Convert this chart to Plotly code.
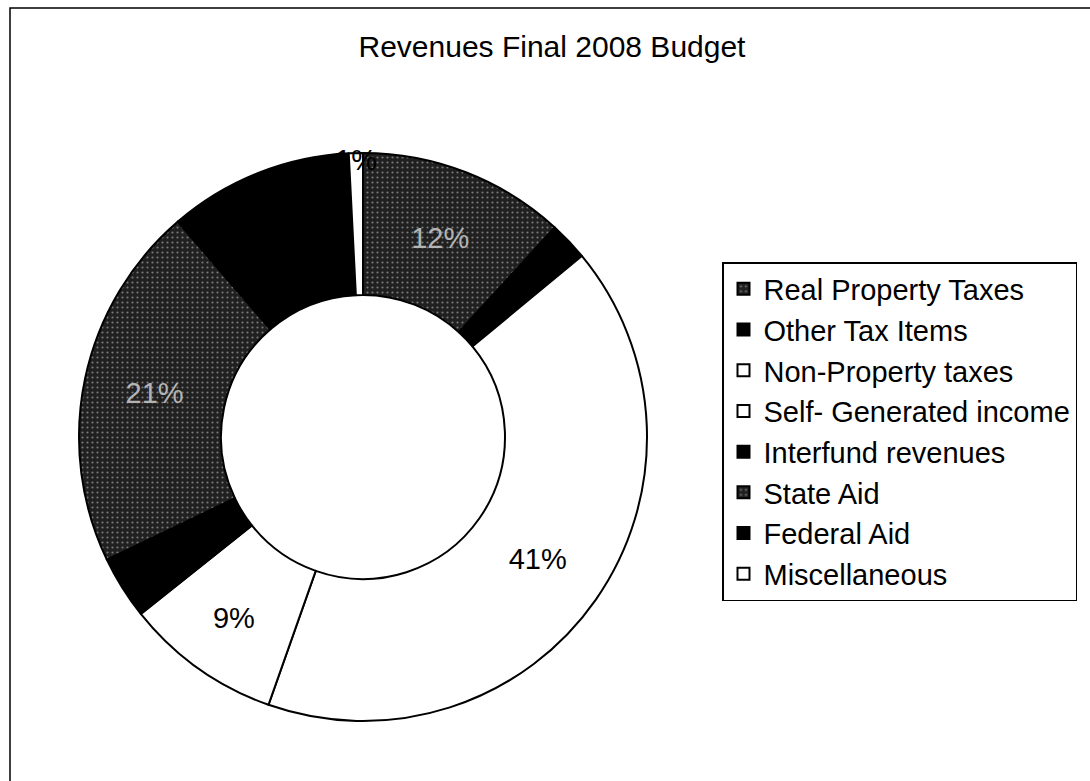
import plotly.graph_objects as go

# Revenue categories and their share of the final 2008 budget (percent)
categories = [
    "Real Property Taxes",
    "Other Tax Items",
    "Non-Property taxes",
    "Self- Generated income",
    "Interfund revenues",
    "State Aid",
    "Federal Aid",
    "Miscellaneous",
]
shares = [11.8, 2.2, 41.4, 8.9, 3.6, 20.8, 10.5, 0.8]

# Fill styles per slice: stippled dark grey, solid black or white
fill_colors = ["#202020", "#000000", "#ffffff", "#ffffff",
               "#000000", "#202020", "#000000", "#ffffff"]
fill_patterns = [".", "", "", "", "", ".", "", ""]
label_colors = ["#b4b4b4", "#000000", "#000000", "#000000",
                "#000000", "#b4b4b4", "#000000", "#000000"]

W, H = 1090, 781
FONT = "Liberation Sans, Arial, sans-serif"

# ring geometry in pixels
cx, cy, r = 363, 437, 284

fig = go.Figure(
    go.Pie(
        labels=categories,
        values=shares,
        sort=False,
        direction="clockwise",
        rotation=0,
        hole=0.5,
        marker=dict(
            colors=fill_colors,
            line=dict(color="#000000", width=2),
            pattern=dict(shape=fill_patterns, fgcolor="#7a7a7a",
                         bgcolor=fill_colors, fillmode="replace",
                         size=5, solidity=0.15),
        ),
        texttemplate="%{percent:.0%}",
        textposition="inside",
        insidetextorientation="horizontal",
        textfont=dict(family=FONT, size=29, color=label_colors),
        domain=dict(x=[(cx - r) / W, (cx + r) / W],
                    y=[1 - (cy + r) / H, 1 - (cy - r) / H]),
        hoverinfo="label+percent",
    )
)

fig.update_layout(
    width=W,
    height=H,
    margin=dict(l=0, r=0, t=0, b=0),
    paper_bgcolor="#ffffff",
    plot_bgcolor="#ffffff",
    title=dict(
        text="Revenues Final 2008 Budget",
        x=552 / W,
        xanchor="center",
        y=1 - 46 / H,
        yanchor="middle",
        font=dict(family=FONT, size=30, color="#000000"),
    ),
    uniformtext=dict(minsize=29, mode="show"),
    legend=dict(
        x=722 / W,
        xanchor="left",
        y=1 - 262 / H,
        yanchor="top",
        bgcolor="#ffffff",
        bordercolor="#000000",
        borderwidth=1.5,
        font=dict(family=FONT, size=29, color="#000000"),
        itemclick=False,
        itemdoubleclick=False,
    ),
    showlegend=True,
    shapes=[
        # chart area frame
        dict(type="rect", xref="paper", yref="paper",
             x0=10 / W, x1=1.01, y0=-0.02, y1=1 - 8 / H,
             line=dict(color="#000000", width=1.5), fillcolor="rgba(0,0,0,0)",
             layer="below"),
    ],
)

fig.write_html("out.html")
